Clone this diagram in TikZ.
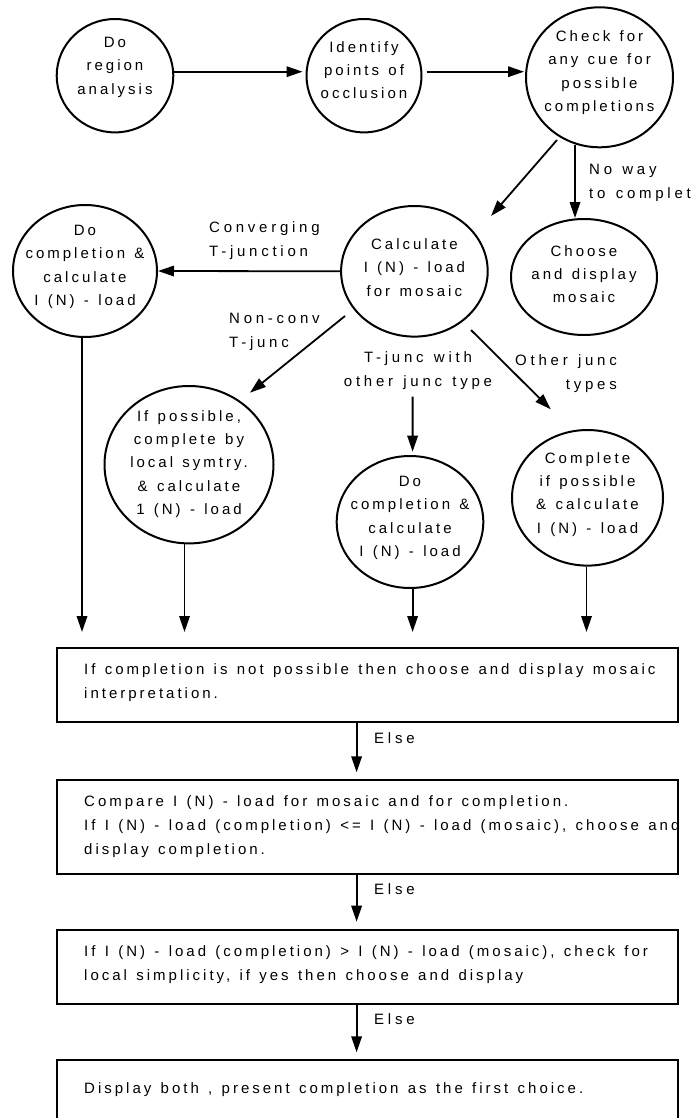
\documentclass[tikz,border=0pt]{standalone}
\usepackage{fontspec}
\setmainfont{Liberation Sans}[LetterSpace=20,WordSpace=1.3]
\newfontfamily\lblfont{Liberation Sans}[LetterSpace=25,WordSpace=1.3]
\usetikzlibrary{shapes.geometric,arrows.meta,calc}
\tikzset{
  ell/.style={ellipse, draw, line width=2pt, inner sep=0pt},
  txt/.style={align=center, inner sep=0pt, font=\fontsize{15}{23.3}\selectfont},
  btxt/.style={align=left, inner sep=0pt, anchor=west, font=\fontsize{15}{24}\selectfont},
  lbl/.style={inner sep=0pt, font=\fontsize{15}{24}\lblfont},
  boxn/.style={draw, rectangle, line width=2pt, inner sep=0pt, minimum width=621pt},
  arr/.style={line width=1.8pt, -{Triangle[length=16pt,width=10.5pt]}}
}
\begin{document}
\begin{tikzpicture}[x=1pt,y=-1pt]
\useasboundingbox (0,0) rectangle (692,1118);
% ellipses
\node[ell, minimum width=116.6pt, minimum height=113.4pt] (c1) at (115,75.7) {};
\node[ell, minimum width=115pt, minimum height=113.4pt] (c2) at (364,75.7) {};
\node[ell, minimum width=147pt, minimum height=140pt] (c3) at (599.5,77.3) {};
\node[ell, minimum width=146.6pt, minimum height=130.6pt] (c4) at (414.4,271.3) {};
\node[ell, minimum width=146pt, minimum height=116pt] (c5) at (584,277) {};
\node[ell, minimum width=144pt, minimum height=132pt] (c6) at (85,271) {};
\node[ell, minimum width=169pt, minimum height=157.4pt] (c7) at (189,464.7) {};
\node[ell, minimum width=146.6pt, minimum height=132pt] (c8) at (410,522) {};
\node[ell, minimum width=151pt, minimum height=135.6pt] (c9) at (587.5,497.8) {};
% ellipse texts
\node[txt] (t1) at (115,67.3) {Do\\region\\analysis};
\node[txt] (t2) at (364,70) {Identify\\points of\\occlusion};
\node[txt] (t3) at (599.5,72.5) {Check for\\any cue for\\possible\\completions};
\node[txt] (t4) at (414.4,267.5) {Calculate\\I (N) - load\\for mosaic};
\node[txt] (t5) at (584,274) {Choose\\and display\\mosaic};
\node[txt] (t6) at (85,266.8) {Do\\completion \&\\calculate\\I (N) - load};
\node[txt] (t7) at (189,464) {If possible,\\complete by\\local symtry.\\\& calculate\\1 (N) - load};
\node[txt] (t8) at (410,517.8) {Do\\completion \&\\calculate\\I (N) - load};
\node[txt] (t9) at (587.5,494.3) {Complete\\if possible\\\& calculate\\I (N) - load};
% boxes
\node[boxn, minimum height=74pt] (b1) at (367,684.7) {};
\node[boxn, minimum height=94pt] (b2) at (367,827) {};
\node[boxn, minimum height=74pt] (b3) at (367,967) {};
\node[boxn, minimum height=74pt] (b4) at (367,1097) {};
\node[btxt] (bt1) at (84,682.8) {If completion is not possible then choose and display mosaic\\interpretation.};
\node[btxt] (bt2) at (84,826.2) {Compare I (N) - load for mosaic and for completion.\\If I (N) - load (completion) <= I (N) - load (mosaic), choose and\\display completion.};
\node[btxt] (bt3) at (84,964.8) {If I (N) - load (completion) > I (N) - load (mosaic), check for\\local simplicity, if yes then choose and display};
\node[btxt] (bt4) at (84,1089.2) {Display both , present completion as the first choice.};
% top row arrows
\draw[arr] ($(c1.east)+(0,-4)$) -- ($(c2.west)+(-3,-4)$);
\draw[arr] ($(c2.east)+(4,-4)$) -- ($(c3.west)+(-1,-5.6)$);
\draw[arr] ($(c3.center)+(-42.5,62.7)$) -- ($(c4.center)+(76.6,-55.3)$);
\draw[arr] ($(c3.center)+(-24.5,67.7)$) -- ($(c5.center)+(-9,-59)$);
\node[lbl, anchor=west, align=left] (l1) at (589,183) {No way\\to complete};
% from calculate
\draw[arr] (c4.west) -- (c6.east);
\node[lbl, anchor=west, align=left] (l2) at (209,240.5) {Converging\\T-junction};
\draw[arr] ($(c4.center)+(-69.4,44.7)$) -- ($(c7.center)+(61,-72)$);
\node[lbl, anchor=west, align=left] (l3) at (229,332.3) {Non-conv\\T-junc};
\draw[arr] ($(c4.center)+(-1.8,125.4)$) -- ($(c8.center)+(2.6,-70.3)$);
\node[lbl, align=center] (l4) at (418,370.7) {T-junc with\\other junc type};
\draw[arr] ($(c4.center)+(56.6,58.7)$) -- ($(c9.center)+(-36.8,-88.5)$);
\node[lbl, anchor=east, align=right] (l5) at (617,373.2) {Other junc\\types};
% down to first box
\draw[arr, shorten >=14.7pt] ($(c6.south)+(-3,0)$) coordinate (d1) -- (d1 |- b1.north);
\draw[arr, shorten >=14.7pt] ($(c7.south)+(-4.5,0)$) coordinate (d2) -- (d2 |- b1.north);
\draw[arr, shorten >=14.7pt] ($(c8.south)+(2.6,0)$) coordinate (d3) -- (d3 |- b1.north);
\draw[arr, shorten >=14.7pt] ($(c9.south)+(-1,0)$) coordinate (d4) -- (d4 |- b1.north);
% else arrows
\draw[arr, shorten >=6.7pt] ($(b1.south)+(-10.4,0)$) coordinate (e1) -- (e1 |- b2.north);
\draw[arr, shorten >=7.3pt] ($(b2.south)+(-10.4,0)$) coordinate (e2) -- (e2 |- b3.north);
\draw[arr, shorten >=6.7pt] ($(b3.south)+(-10.4,0)$) coordinate (e3) -- (e3 |- b4.north);
\node[lbl, anchor=west] (x1) at (374,738.3) {Else};
\node[lbl, anchor=west] (x2) at (374,889.3) {Else};
\node[lbl, anchor=west] (x3) at (374,1019.3) {Else};
\end{tikzpicture}
\end{document}
